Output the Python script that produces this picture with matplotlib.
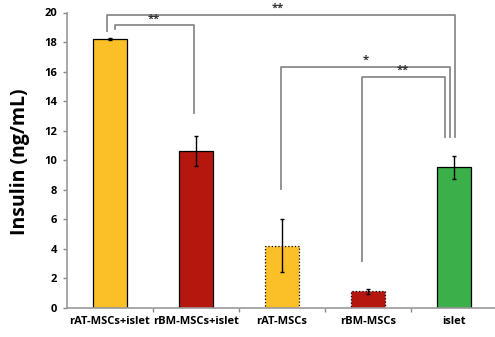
import matplotlib
matplotlib.use("Agg")
import matplotlib.pyplot as plt
import numpy as np

categories = ["rAT-MSCs+islet", "rBM-MSCs+islet", "rAT-MSCs", "rBM-MSCs", "islet"]
values = [18.2, 10.6, 4.2, 1.1, 9.5]
errors = [0.08, 1.0, 1.8, 0.18, 0.8]
colors = ["#FBBF28", "#B5170F", "#FBBF28", "#B5170F", "#3BAF4A"]
dotted = [False, False, True, True, False]
y_ticks = [0, 2, 4, 6, 8, 10, 12, 14, 16, 18, 20]

# significance brackets: (left index, right index, label)
brackets = [(0, 4, "**"), (0, 1, "**"), (2, 4, "*"), (3, 4, "**")]

plt.rcParams['font.family'] = ['Open Sans', 'DejaVu Sans']

fig = plt.figure(figsize=(4.95, 3.37), dpi=100)
ax = fig.add_axes([67/495, (337-307.7)/337, 430/495, (307.7-12.5)/337])

x = np.arange(len(categories))
for i in range(len(categories)):
    ax.bar(x[i], values[i], width=0.4, color=colors[i], edgecolor="black",
           linewidth=0.9, linestyle=":" if dotted[i] else "-", zorder=2)
ax.errorbar(x, values, yerr=errors, fmt="none", ecolor="black", elinewidth=1.0,
            capsize=1.5, capthick=1.0, zorder=3)

gray = "#8a8a8a"
lw = 1.3
# bracket geometry (styling, relative to category positions)
# A: rAT-MSCs+islet vs islet
ax.plot([x[0]-0.03, x[0]-0.03, x[4]+0.01, x[4]+0.01], [18.77, 19.83, 19.83, 11.58], color=gray, lw=lw, zorder=1)
ax.text((x[0]+x[4])/2 - 0.05, 19.9, brackets[0][2], ha="center", va="bottom", fontsize=8, fontweight="bold", color="#333333")
# B: rAT-MSCs+islet vs rBM-MSCs+islet
ax.plot([x[0]+0.06, x[0]+0.06, x[1]-0.02, x[1]-0.02], [18.85, 19.13, 19.13, 13.2], color=gray, lw=lw, zorder=1)
ax.text((x[0]+x[1])/2 + 0.01, 19.2, brackets[1][2], ha="center", va="bottom", fontsize=8, fontweight="bold", color="#333333")
# C: rAT-MSCs vs islet
ax.plot([x[2]-0.015, x[2]-0.015, x[4]-0.045, x[4]-0.045], [8.02, 16.33, 16.33, 11.58], color=gray, lw=lw, zorder=1)
ax.text((x[2]+x[4])/2 - 0.03, 16.4, brackets[2][2], ha="center", va="bottom", fontsize=8, fontweight="bold", color="#333333")
# D: rBM-MSCs vs islet
ax.plot([x[3]-0.075, x[3]-0.075, x[4]-0.11, x[4]-0.11], [3.16, 15.65, 15.65, 11.58], color=gray, lw=lw, zorder=1)
ax.text((x[3]+x[4])/2 - 0.09, 15.7, brackets[3][2], ha="center", va="bottom", fontsize=8, fontweight="bold", color="#333333")

ax.set_xlim(-0.5, 4.5)
ax.set_ylim(0, 20)
ax.set_yticks(y_ticks)
ax.set_yticklabels([str(t) for t in y_ticks], fontsize=8, fontweight="bold")
ax.set_xticks(x)
ax.set_xticklabels(categories, fontsize=8, fontweight="bold")
ax.tick_params(axis="x", length=0, pad=6)
ax.set_xticks(np.arange(0.5, len(categories), 1), minor=True)
ax.tick_params(axis="x", which="minor", length=3, width=1, color="#888888", direction="out")
ax.tick_params(axis="y", length=3, width=1, color="#888888", direction="out", pad=4)

for s in ["top", "right"]:
    ax.spines[s].set_visible(False)
for s in ["left", "bottom"]:
    ax.spines[s].set_color("#999999")
    ax.spines[s].set_linewidth(1.2)

fig.text(20/495, 1-162/337, "Insulin (ng/mL)", rotation=90, ha="center", va="center",
         fontsize=14, fontweight="bold")

fig.savefig("out.png", dpi=100)
